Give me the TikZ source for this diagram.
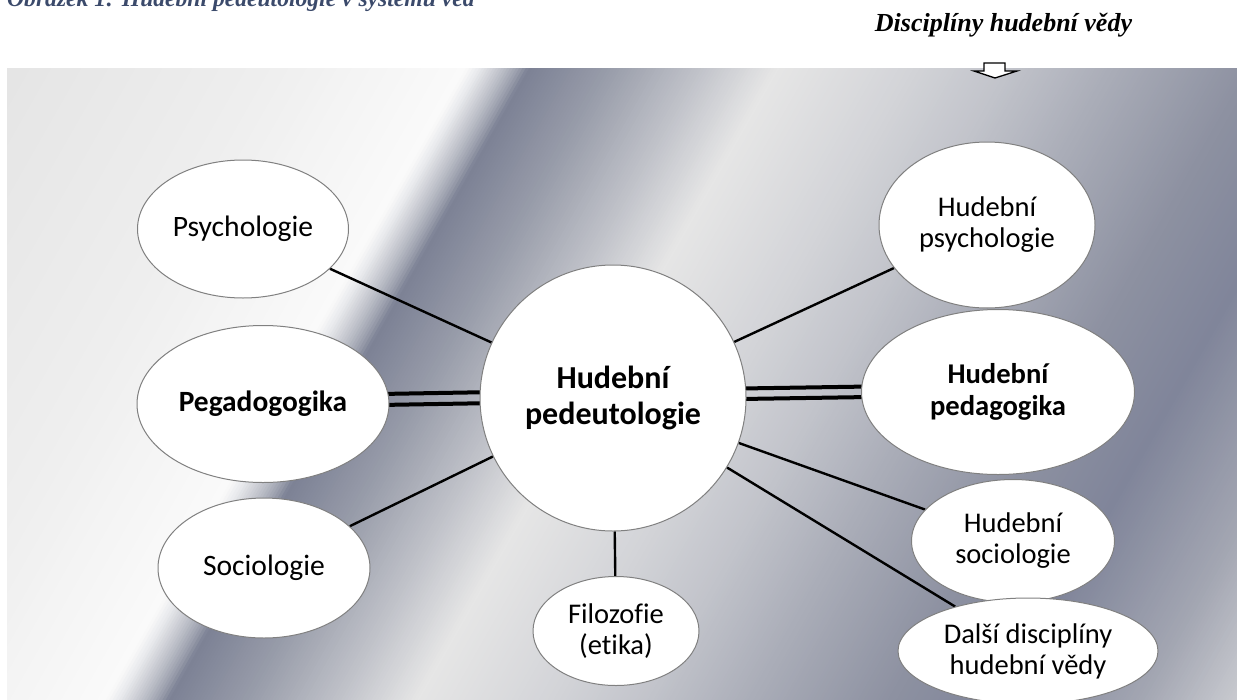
\documentclass[tikz,border=0pt]{standalone}
\usepackage{fontspec}
\usetikzlibrary{shapes.geometric,calc}
\newfontfamily\calfont[Ligatures=NoCommon]{Carlito}
\newfontfamily\tmsfont{Liberation Serif}
\definecolor{capblue}{HTML}{3B4A6B}
\definecolor{g1}{HTML}{E3E3E3}
\definecolor{g2}{HTML}{EEEEEE}
\definecolor{g3}{HTML}{FAFAFA}
\definecolor{g4}{HTML}{E9EAED}
\definecolor{g5}{HTML}{D0D2D8}
\definecolor{g6}{HTML}{B5B8C2}
\definecolor{g7}{HTML}{9A9EAC}
\definecolor{g8}{HTML}{7C8195}
\definecolor{g9}{HTML}{999DAA}
\definecolor{g10}{HTML}{C1C3CA}
\definecolor{g11}{HTML}{E6E6E6}
\definecolor{g12}{HTML}{D3D4D8}
\definecolor{g13}{HTML}{C1C3CA}
\definecolor{g14}{HTML}{AAADB8}
\definecolor{g15}{HTML}{8D91A1}
\definecolor{g16}{HTML}{80859A}
\definecolor{g17}{HTML}{A3A6B2}
\definecolor{g18}{HTML}{D2D3D7}
\pgfdeclarelayer{grad}
\pgfdeclarelayer{lines}
\pgfsetlayers{grad,lines,main}
\newcommand\bgseg[4]{%
  \pgfmathsetmacro\segw{#2-#1}%
  \pgfmathtruncatemacro\nsub{max(1,round(\segw/3))}%
  \pgfmathsetmacro\stw{\segw/\nsub}%
  \foreach \k in {1,...,\nsub}{%
    \pgfmathsetmacro\sa{#1+(\k-1)*\stw}%
    \pgfmathsetmacro\sb{#1+\k*\stw+1}%
    \pgfmathtruncatemacro\pc{round(100*(\k-0.5)/\nsub)}%
    \fill[#4!\pc!#3] (\sa-34.2,60) -- (\sb-34.2,60) -- (\sb-404.7,710) -- (\sa-404.7,710) -- cycle;
  }}
\begin{document}
\begin{tikzpicture}[x=1pt,y=-1pt,
  bub/.style={ellipse,draw=black!50,line width=1pt,fill=white,inner sep=0pt,align=center,
    font=\calfont\fontsize{28.5}{31}\selectfont},
  bubs/.style={bub,font=\calfont\fontsize{29.6}{31}\selectfont},
  bubb/.style={bub,font=\calfont\bfseries\fontsize{28.6}{32}\selectfont},
  link/.style={draw=black,line width=2.4pt},
  dbl/.style={draw=black,line width=4pt}]
\useasboundingbox (0,0) rectangle (1237,699);
\begin{pgfonlayer}{grad}
\begin{scope}
\clip (7,68) rectangle (1237,699);
\bgseg{0}{300}{g1}{g2}
\bgseg{300}{505}{g2}{g3}
\bgseg{505}{518}{g3}{g4}
\bgseg{518}{532}{g4}{g5}
\bgseg{532}{546}{g5}{g6}
\bgseg{546}{558}{g6}{g7}
\bgseg{558}{568}{g7}{g8}
\bgseg{568}{650}{g8}{g9}
\bgseg{650}{740}{g9}{g10}
\bgseg{740}{816}{g10}{g11}
\bgseg{816}{950}{g11}{g12}
\bgseg{950}{1050}{g12}{g13}
\bgseg{1050}{1150}{g13}{g14}
\bgseg{1150}{1290}{g14}{g15}
\bgseg{1290}{1400}{g15}{g16}
\bgseg{1400}{1540}{g16}{g17}
\bgseg{1540}{1660}{g17}{g18}
\end{scope}
\end{pgfonlayer}

\begin{scope}
\clip (0,0) rectangle (1237,699);
\node[font=\tmsfont\bfseries\itshape\fontsize{23.6}{26}\selectfont,text=capblue,anchor=base west,inner sep=0pt] (cap) at (7,6) {Obrázek 1: Hudební pedeutologie v systému věd};
\end{scope}

\node[font=\tmsfont\bfseries\itshape\fontsize{26}{30}\selectfont,anchor=base,inner sep=0pt] (ttl) at (1003.5,31) {Disciplíny hudební vědy};
\draw[line width=1.3pt,fill=white,line join=miter] (984,63) -- (1005,63) -- (1005,71) -- (1017,71) -- (995,78) -- (974,71) -- (984,71) -- cycle;

\node[bubs,minimum width=211pt,minimum height=138pt] (psy) at (243,229) {Psychologie};
\node[bubb,font=\calfont\bfseries\fontsize{29.4}{32}\selectfont,minimum width=252pt,minimum height=157pt] (ped) at (263,404) {Pegadogogika};
\node[bubs,minimum width=212pt,minimum height=140pt] (soc) at (264,568) {Sociologie};
\node[bubb,circle,minimum size=266pt,font=\calfont\bfseries\fontsize{32}{36}\selectfont] (cen) at (613,398) {Hudební\\pedeutologie};
\node[bub,minimum width=216pt,minimum height=166pt] (hpsy) at (987,225) {Hudební\\psychologie};
\node[bubb,minimum width=273pt,minimum height=165pt] (hped) at (998,392) {Hudební\\pedagogika};
\node[bub,minimum width=203pt,minimum height=123pt] (hsoc) at (1013,541) {Hudební\\sociologie};
\node[bub,minimum width=260pt,minimum height=106pt] (dal) at (1028,651) {Další disciplíny\\hudební vědy};
\node[bub,minimum width=166pt,minimum height=109pt] (fil) at (616,631) {Filozofie\\(etika)};

\begin{pgfonlayer}{lines}
\draw[link] (psy) -- (cen);
\draw[link] (soc) -- (cen);
\draw[link] (hpsy) -- (cen);
\draw[link] (hsoc) -- (cen);
\draw[link] (dal) -- (cen);
\draw[link] (fil) -- (cen);
\draw[dbl] ($(ped.center)+(0,-8)$) -- ($(cen.center)+(0,-8)$);
\draw[dbl] ($(ped.center)+(0,3)$) -- ($(cen.center)+(0,3)$);
\draw[dbl] ($(hped.center)+(0,-7.5)$) -- ($(cen.center)+(0,-7.5)$);
\draw[dbl] ($(hped.center)+(0,3)$) -- ($(cen.center)+(0,3)$);
\end{pgfonlayer}
\end{tikzpicture}
\end{document}
